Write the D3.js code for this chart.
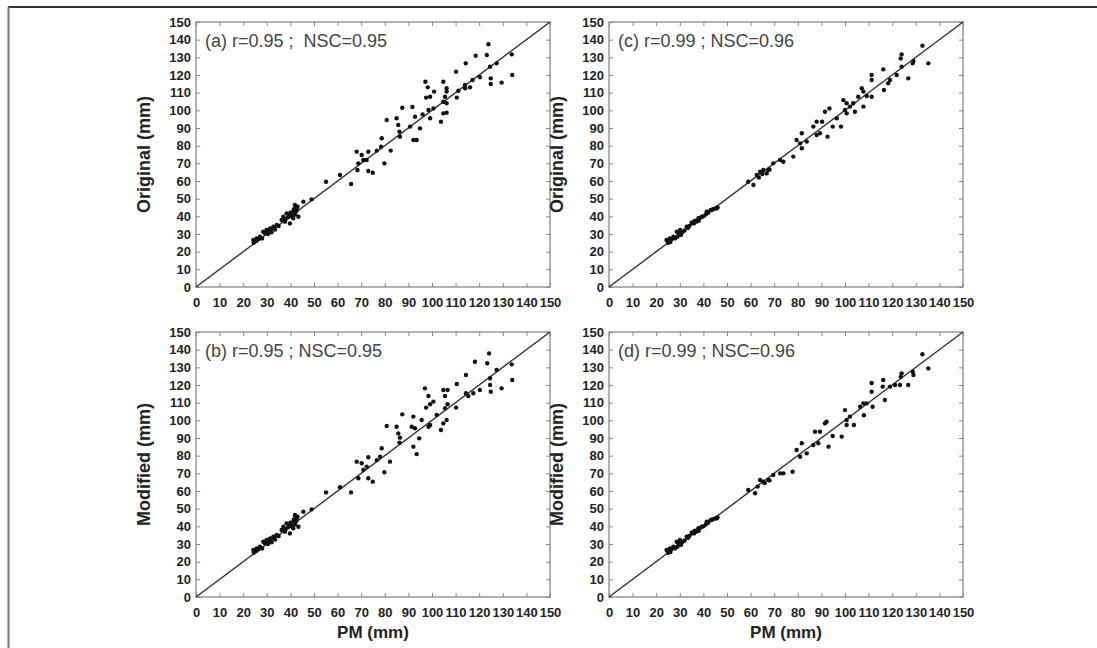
<!DOCTYPE html>
<html>
<head>
<meta charset="utf-8">
<script src="https://cdn.jsdelivr.net/npm/d3@7"></script>
<style>
  body { margin: 0; background: #fff; }
  svg { display: block; }
</style>
</head>
<body>
<svg id="chart" width="1097" height="648"></svg>
<script>
// tick values, same on both axes
const ticks = d3.range(0, 151, 10);

// (a) PM vs Original
const panelA = [
  [123.9,137.4],[123.2,131.3],[118.5,130.9],[114.3,126.6],[110.2,121.9],[133.8,131.7],[134.0,120.0],
  [129.5,115.7],[127.4,126.6],[124.6,124.7],[124.9,118.1],[124.9,114.9],[120.3,118.7],[117.2,117.2],
  [114.0,114.3],[114.0,112.5],[116.1,113.0],[111.2,111.1],[110.5,107.2],[106.2,112.5],[104.8,116.2],
  [106.2,110.6],[105.5,107.7],[104.8,104.9],[106.2,104.0],[104.8,98.3],[106.2,98.7],[103.8,93.6],
  [97.2,116.2],[98.2,113.0],[100.9,110.6],[99.2,107.7],[97.5,107.2],[98.5,100.2],[100.6,101.1],
  [99.2,95.5],[96.0,97.7],[94.9,89.8],[92.8,96.4],[91.7,101.9],[90.7,90.8],[92.1,83.2],[93.5,83.2],
  [87.4,101.5],[85.0,95.5],[85.7,91.7],[86.4,85.1],[86.2,87.9],[80.8,94.5],[82.5,77.2],[78.7,84.2],
  [78.4,79.4],[79.8,70.0],[76.6,77.2],[73.0,76.6],[72.3,71.9],[70.2,74.7],[68.1,76.6],[70.9,71.9],
  [68.8,70.0],[68.4,66.2],[73.0,65.7],[74.9,64.7],[65.7,58.3],[61.0,63.4],[55.1,59.6],[49.0,49.6],
  [45.5,48.3],[41.9,46.4],[42.7,44.5],[41.2,42.6],[43.4,39.8],[39.8,40.8],[38.4,41.7],[37.0,39.8],
  [37.7,37.0],[39.8,36.0],[41.2,38.9],[36.3,37.9],[34.2,35.1],[32.8,34.2],[31.4,33.2],[29.9,32.3],
  [29.2,30.4],[28.5,31.3],[27.1,28.5],[25.7,27.5],[24.3,26.6],[24.5,25.0],[25.5,26.0],[26.5,27.0],
  [28.0,27.5],[30.5,30.0],[31.0,32.0],[32.0,31.0],[33.0,33.5],[33.5,32.5],[35.0,34.5],[38.0,38.5],
  [39.0,39.5],[40.0,42.0],[40.5,40.0],[41.5,44.0],[42.0,41.0],[42.5,43.0],[43.0,45.5]
];

// (b) PM vs Modified
const panelB = [
  [124.2,137.9],[118.2,133.2],[123.4,132.3],[133.8,131.7],[134.0,122.8],[129.5,118.1],[127.4,128.5],
  [124.6,123.8],[124.6,120.0],[124.9,116.2],[120.3,117.2],[117.5,115.3],[114.4,125.7],[114.4,115.3],
  [115.4,113.8],[110.5,120.6],[106.6,117.2],[104.8,117.2],[105.5,113.8],[110.2,107.2],[106.6,109.1],
  [105.5,106.8],[106.2,100.2],[104.8,98.3],[103.8,94.5],[102.0,103.0],[97.0,118.1],[98.5,113.8],
  [100.6,110.6],[99.2,109.1],[97.5,107.2],[99.2,97.4],[98.5,96.4],[95.6,100.2],[94.6,89.8],[92.1,102.1],
  [91.4,96.4],[92.8,95.5],[92.1,85.1],[93.5,80.9],[87.4,103.4],[85.0,96.4],[85.7,92.6],[86.4,90.2],
  [86.2,87.4],[80.8,96.8],[82.2,76.6],[78.7,84.2],[78.0,79.4],[79.8,70.6],[76.6,77.5],[73.0,79.1],
  [72.3,73.8],[70.2,75.7],[68.1,76.6],[70.9,71.9],[68.8,67.2],[73.0,67.2],[74.9,65.3],[65.7,59.2],
  [61.0,62.1],[55.1,59.2],[49.0,49.6],[45.5,48.3],[41.9,46.4],[42.7,44.5],[41.2,42.6],[43.4,39.8],
  [39.8,40.8],[38.4,41.7],[37.0,39.8],[37.7,37.0],[39.8,36.0],[41.2,38.9],[36.3,37.9],[34.2,35.1],
  [32.8,34.2],[31.4,33.2],[29.9,32.3],[29.2,30.4],[28.5,31.3],[27.1,28.5],[25.7,27.5],[24.3,26.6],
  [24.5,25.0],[25.5,26.0],[26.5,27.0],[28.0,27.5],[30.5,30.0],[31.0,32.0],[32.0,31.0],[33.0,33.5],
  [33.5,32.5],[35.0,34.5],[38.0,38.5],[39.0,39.5],[40.0,42.0],[40.5,40.0],[41.5,44.0],[42.0,41.0],
  [42.5,43.0],[43.0,45.5]
];

// (c) PM vs Original
const panelC = [
  [132.8,136.6],[135.3,126.6],[129.0,127.9],[128.7,126.6],[124.0,131.7],[123.6,129.4],[124.0,124.7],
  [126.8,118.1],[121.9,120.0],[119.1,117.2],[118.3,115.3],[116.2,123.2],[116.5,111.5],[111.3,120.0],
  [111.3,117.2],[111.3,107.7],[109.2,108.1],[107.8,110.6],[107.8,102.1],[107.1,112.5],[105.6,107.7],
  [103.5,104.0],[102.1,102.1],[100.7,104.0],[99.3,105.8],[100.0,100.2],[100.7,98.3],[104.2,99.2],
  [98.3,90.8],[94.8,90.8],[96.5,95.5],[93.4,101.1],[91.5,99.2],[92.6,85.1],[89.4,87.0],[88.0,86.0],
  [90.3,93.6],[88.0,93.6],[86.6,90.8],[83.8,82.3],[81.7,87.0],[81.0,81.3],[79.5,83.2],[81.7,78.5],
  [78.1,73.8],[73.9,70.9],[72.5,71.9],[69.6,70.0],[67.5,66.2],[66.8,64.3],[65.4,66.2],[64.0,65.3],
  [62.6,63.4],[61.2,57.7],[59.0,59.6],[63.5,62.0],[65.0,64.0],[68.0,66.5],[45.6,44.5],[43.5,43.6],
  [41.4,42.6],[39.3,39.8],[37.9,38.9],[36.4,37.5],[35.0,36.4],[32.9,34.2],[30.1,32.3],[28.7,31.3],
  [27.3,28.5],[25.8,27.5],[24.4,26.6],[25.0,25.0],[26.0,25.5],[26.5,27.0],[27.5,28.0],[28.0,27.5],
  [29.0,28.5],[29.5,30.0],[30.5,29.5],[31.0,31.0],[32.0,32.0],[33.5,33.5],[34.0,34.5],[35.5,36.5],
  [36.0,36.0],[37.0,37.0],[38.0,37.5],[38.5,39.0],[40.0,40.0],[41.0,41.0],[42.0,42.0],[43.0,43.5],
  [44.0,44.0],[45.0,44.5],[46.0,45.0]
];

// (d) PM vs Modified
const panelD = [
  [132.8,137.4],[135.3,129.4],[128.7,127.5],[129.0,125.7],[126.8,120.0],[124.0,126.6],[123.6,124.7],
  [123.3,120.0],[121.2,120.0],[119.1,119.1],[116.2,122.8],[116.0,119.1],[116.9,111.5],[111.3,121.1],
  [111.3,116.2],[111.7,107.7],[109.2,109.6],[107.8,109.6],[108.0,102.9],[106.4,107.7],[103.8,97.4],
  [102.1,102.1],[100.7,100.2],[100.0,105.8],[100.7,97.4],[98.6,90.8],[94.8,91.1],[93.0,85.1],[92.2,99.2],
  [91.5,98.3],[89.4,93.6],[87.3,93.6],[88.7,87.0],[86.6,86.0],[83.8,81.3],[81.7,87.0],[79.5,83.2],
  [81.0,79.4],[77.8,70.9],[73.9,70.0],[72.5,70.0],[69.6,69.1],[67.5,66.2],[65.4,65.3],[64.0,66.2],
  [61.9,58.7],[59.0,60.6],[63.0,62.5],[66.0,64.5],[68.0,66.0],[45.6,44.5],[43.5,43.6],[41.4,42.6],
  [39.3,39.8],[37.9,38.9],[36.4,37.5],[35.0,36.4],[32.9,34.2],[30.1,32.3],[28.7,31.3],[27.3,28.5],
  [25.8,27.5],[24.4,26.6],[25.0,25.0],[26.0,25.5],[26.5,27.0],[27.5,28.0],[28.0,27.5],[29.0,28.5],
  [29.5,30.0],[30.5,29.5],[31.0,31.0],[32.0,32.0],[33.5,33.5],[34.0,34.5],[35.5,36.5],[36.0,36.0],
  [37.0,37.0],[38.0,37.5],[38.5,39.0],[40.0,40.0],[41.0,41.0],[42.0,42.0],[43.0,43.5],[44.0,44.0],
  [45.0,44.5],[46.0,45.0]
];

const panels = [
  {label: "(a) r=0.95 ;  NSC=0.95", data: panelA, left: 196, top: 22,  ytitle: "Original (mm)", xtitle: false},
  {label: "(c) r=0.99 ; NSC=0.96",  data: panelC, left: 609, top: 22,  ytitle: "Original (mm)", xtitle: false},
  {label: "(b) r=0.95 ; NSC=0.95",  data: panelB, left: 196, top: 332, ytitle: "Modified (mm)", xtitle: true},
  {label: "(d) r=0.99 ; NSC=0.96",  data: panelD, left: 609, top: 332, ytitle: "Modified (mm)", xtitle: true}
];

const W = 354, H = 265;
const font = "'Liberation Sans', Arial, sans-serif";

const svg = d3.select("#chart");

// outer frame (top and left edges only visible)
svg.append("line").attr("x1", 8).attr("x2", 1097).attr("y1", 7).attr("y2", 7)
  .attr("stroke", "#333").attr("stroke-width", 2);
svg.append("line").attr("x1", 8.5).attr("x2", 8.5).attr("y1", 7).attr("y2", 648)
  .attr("stroke", "#777").attr("stroke-width", 2);

const x = d3.scaleLinear().domain([0, 150]).range([0, W]);
const y = d3.scaleLinear().domain([0, 150]).range([H, 0]);

panels.forEach(function(p) {
  const g = svg.append("g").attr("transform", "translate(" + p.left + "," + p.top + ")");

  // axes, ticks point inward
  g.append("g").attr("transform", "translate(0," + H + ")")
    .call(d3.axisBottom(x).tickValues(ticks).tickSize(-4).tickSizeOuter(0).tickPadding(11));
  g.append("g")
    .call(d3.axisLeft(y).tickValues(ticks).tickSize(-4).tickSizeOuter(0).tickPadding(5));
  g.append("g")
    .call(d3.axisTop(x).tickValues(ticks).tickSize(-4).tickSizeOuter(0).tickFormat(""));
  g.append("g").attr("transform", "translate(" + W + ",0)")
    .call(d3.axisRight(y).tickValues(ticks).tickSize(-4).tickSizeOuter(0).tickFormat(""));

  g.selectAll(".domain").remove();
  g.selectAll(".tick line").attr("stroke", "#888").attr("stroke-width", 1);
  g.selectAll(".tick text")
    .attr("font-family", font).attr("font-size", 13).attr("font-weight", "bold").attr("fill", "#222");

  // frame
  g.append("rect").attr("width", W).attr("height", H)
    .attr("fill", "none").attr("stroke", "#888").attr("stroke-width", 1.3);

  // 1:1 line
  g.append("line")
    .attr("x1", x(0)).attr("y1", y(0)).attr("x2", x(150)).attr("y2", y(150))
    .attr("stroke", "#333").attr("stroke-width", 1.4);

  g.selectAll("circle.pt")
    .data(p.data)
    .enter()
    .append("circle")
    .attr("class", "pt")
    .attr("cx", function(d) { return x(d[0]); })
    .attr("cy", function(d) { return y(d[1]); })
    .attr("r", 2.2)
    .attr("fill", "#111");

  g.append("text")
    .attr("x", 9).attr("y", 25)
    .attr("font-family", font).attr("font-size", 18).attr("fill", "#444")
    .attr("xml:space", "preserve")
    .style("white-space", "pre")
    .text(p.label);

  g.append("text")
    .attr("transform", "translate(-46," + (H / 2) + ") rotate(-90)")
    .attr("text-anchor", "middle")
    .attr("font-family", font).attr("font-size", 18).attr("font-weight", "bold").attr("fill", "#222")
    .text(p.ytitle);

  if (p.xtitle) {
    g.append("text")
      .attr("x", W / 2).attr("y", H + 41)
      .attr("text-anchor", "middle")
      .attr("font-family", font).attr("font-size", 17).attr("font-weight", "bold").attr("fill", "#222")
      .text("PM (mm)");
  }
});
</script>
</body>
</html>
